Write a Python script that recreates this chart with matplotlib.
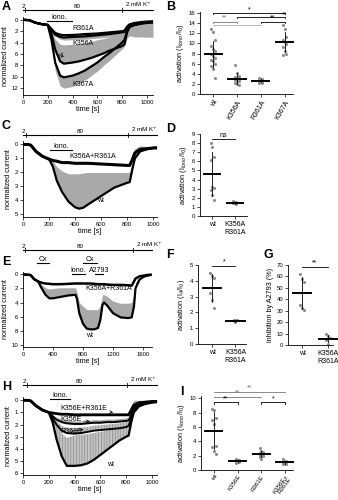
import numpy as np
import matplotlib.pyplot as plt

plt.rcParams['font.family'] = ['Liberation Sans', 'DejaVu Sans']
plt.rcParams['hatch.linewidth'] = 0.5

W, H = 338, 500
GREY = '#a9a9a9'
DOT = '#8c8c8c'

# ---- A: current traces, alanine mutants ----
tA = [0, 50, 100, 150, 200, 230, 260, 300, 330, 400, 450, 500, 550, 600, 650, 700, 750, 800, 820, 840, 860, 900, 950, 1000, 1050]
wtA = [0, 0.05, 0.5, 0.75, 0.9, 2.5, 5.2, 7.3, 7.7, 7.5, 7.3, 7.0, 6.7, 6.3, 5.9, 5.4, 5.0, 4.6, 4.3, 2.2, 1.3, 0.9, 0.7, 0.55, 0.45]
wtA_sem = [0, 0, 0, 0, 0, 0.8, 1.8, 3.0, 3.3, 3.2, 3.1, 3.0, 2.9, 2.8, 2.6, 2.4, 2.3, 2.2, 2.1, 1.0, 0.5, 0.3, 0.2, 0.15, 0.1]
k367A = [0, 0.05, 0.5, 0.75, 0.9, 3.5, 7.5, 9.8, 10.1, 9.8, 9.4, 8.9, 8.2, 7.5, 6.6, 5.8, 4.9, 4.0, 3.5, 2.0, 1.2, 0.9, 0.6, 0.45, 0.35]
k367A_sem = [0, 0, 0, 0, 0, 0.8, 1.4, 1.8, 1.9, 1.9, 1.8, 1.7, 1.6, 1.5, 1.4, 1.3, 1.2, 1.1, 1.1, 1.2, 1.6, 2.1, 2.4, 2.6, 2.7]
k356A = [0, 0.05, 0.5, 0.75, 0.9, 1.8, 2.6, 3.0, 3.1, 3.0, 2.95, 2.9, 2.8, 2.7, 2.6, 2.5, 2.35, 2.2, 2.1, 1.4, 0.9, 0.7, 0.55, 0.45, 0.4]
k356A_sem = [0, 0, 0, 0, 0, 0.2, 0.3, 0.4, 0.45, 0.5, 0.5, 0.5, 0.5, 0.5, 0.5, 0.5, 0.5, 0.5, 0.5, 0.3, 0.2, 0.2, 0.2, 0.2, 0.2]
r361A = [0, 0.05, 0.5, 0.75, 0.9, 1.6, 2.3, 2.6, 2.7, 2.65, 2.6, 2.5, 2.45, 2.4, 2.3, 2.2, 2.1, 2.0, 1.9, 1.2, 0.8, 0.55, 0.4, 0.3, 0.25]

# ---- B: activation, alanine mutants ----
catB = ['wt', 'K356A', 'R361A', 'K367A']
valsB = [
    [12.9, 12.2, 10.6, 9.4, 8.8, 8.4, 7.9, 7.6, 7.2, 6.8, 6.5, 6.0, 5.5, 5.0, 3.2],
    [5.7, 4.1, 3.6, 3.3, 3.1, 3.0, 2.8, 2.6, 2.5, 2.2, 2.0, 1.8],
    [3.2, 3.0, 2.9, 2.8, 2.7, 2.6, 2.5, 2.4, 2.2, 2.1],
    [13.6, 12.9, 11.3, 10.7, 10.2, 9.8, 9.3, 8.4, 8.0, 7.7],
]

# ---- C: traces wt vs K356A+R361A ----
tC = [0, 40, 60, 100, 150, 200, 230, 260, 300, 350, 400, 430, 460, 500, 600, 700, 800, 820, 840, 860, 900, 950, 1000, 1030]
wtC = [0, 0, 0.05, 0.5, 0.85, 1.05, 1.6, 2.6, 3.4, 4.1, 4.5, 4.6, 4.55, 4.3, 3.7, 3.1, 2.75, 2.7, 1.8, 1.0, 0.5, 0.35, 0.25, 0.2]
wtC_sem = [0, 0, 0, 0, 0, 0, 0.4, 1.0, 1.5, 2.0, 2.4, 2.5, 2.5, 2.3, 1.7, 1.1, 0.75, 0.7, 0.5, 0.3, 0.15, 0.1, 0.05, 0.05]
dmC = [0, 0, 0.05, 0.5, 0.85, 1.05, 1.15, 1.2, 1.3, 1.3, 1.35, 1.35, 1.35, 1.35, 1.4, 1.45, 1.5, 1.5, 1.1, 0.6, 0.35, 0.3, 0.25, 0.25]
dmC_sem = [0, 0, 0, 0, 0, 0, 0.05, 0.1, 0.1, 0.1, 0.1, 0.1, 0.1, 0.1, 0.1, 0.1, 0.1, 0.1, 0.2, 0.3, 0.25, 0.15, 0.1, 0.1]

# ---- D: activation wt vs double mutant ----
catD = ['wt', 'K356A\nR361A']
valsD = [
    [8.0, 7.6, 6.5, 6.1, 3.2, 3.1, 2.9, 2.3, 1.8],
    [1.6, 1.5, 1.5, 1.45, 1.4, 1.3],
]

# ---- E: traces with Cx / Iono. / A2793 ----
tE = [0, 100, 150, 200, 250, 300, 350, 400, 500, 600, 700, 720, 750, 800, 850, 900, 950, 1000, 1030, 1060, 1080, 1120, 1200, 1300, 1400, 1450, 1480, 1500, 1550, 1600, 1650, 1700]
wtE = [0, 0.1, 0.7, 1.0, 2.0, 2.9, 3.4, 3.4, 3.2, 3.0, 2.9, 3.5, 5.5, 7.0, 7.7, 7.8, 7.8, 7.6, 6.5, 4.3, 4.0, 4.4, 5.5, 6.1, 6.2, 6.1, 4.5, 2.0, 0.8, 0.4, 0.2, 0.1]
wtE_sem = [0, 0, 0, 0, 0.5, 1.0, 1.3, 1.4, 1.3, 1.1, 1.0, 1.0, 1.5, 2.5, 2.7, 2.8, 2.8, 2.6, 2.0, 1.4, 1.1, 1.3, 1.7, 2.0, 2.1, 2.1, 1.5, 0.8, 0.3, 0.1, 0.05, 0]
dmE = [0, 0.1, 0.7, 1.0, 1.2, 1.3, 1.35, 1.4, 1.4, 1.35, 1.3, 1.3, 1.3, 1.3, 1.3, 1.3, 1.35, 1.4, 1.4, 1.4, 1.4, 1.45, 1.5, 1.5, 1.55, 1.6, 1.0, 0.6, 0.3, 0.2, 0.1, 0.05]

# ---- F, G: activation and A2793 inhibition ----
catFG = ['wt', 'K356A\nR361A']
valsF = [
    [4.5, 4.3, 4.2, 3.2, 2.8, 2.3],
    [1.55, 1.5, 1.5, 1.45, 1.4],
]
valsG = [
    [62, 58, 55, 35, 32, 31],
    [9.3, 8.2, 5.8, 4.4, 0.6],
]

# ---- H: traces, glutamate mutants ----
tH = [0, 40, 60, 100, 150, 200, 230, 260, 300, 340, 400, 450, 500, 550, 600, 650, 700, 750, 800, 820, 840, 860, 900, 950, 1000, 1040]
wtH = [0, 0, 0.05, 0.45, 0.8, 1.0, 1.8, 3.2, 4.6, 5.4, 5.4, 5.35, 5.2, 4.9, 4.5, 4.1, 3.7, 3.3, 3.0, 2.9, 1.8, 1.0, 0.5, 0.3, 0.2, 0.15]
wtH_sem = [0, 0, 0, 0, 0, 0.1, 0.6, 1.2, 1.9, 2.3, 2.5, 2.5, 2.4, 2.2, 1.9, 1.6, 1.3, 1.0, 0.8, 0.7, 0.5, 0.3, 0.15, 0.1, 0.05, 0.05]
r361E = [0, 0, 0.05, 0.45, 0.8, 1.0, 1.5, 2.0, 2.5, 2.7, 2.75, 2.7, 2.6, 2.5, 2.45, 2.4, 2.35, 2.3, 2.2, 2.1, 1.5, 0.8, 0.4, 0.25, 0.15, 0.1]
r361E_sem = [0, 0, 0, 0, 0, 0, 0.2, 0.3, 0.4, 0.45, 0.45, 0.45, 0.4, 0.4, 0.4, 0.4, 0.4, 0.4, 0.4, 0.4, 0.3, 0.2, 0.1, 0.1, 0.05, 0.05]
k356E = [0, 0, 0.05, 0.45, 0.8, 1.0, 1.3, 1.6, 1.8, 1.9, 1.95, 1.95, 1.9, 1.85, 1.85, 1.8, 1.8, 1.75, 1.7, 1.65, 1.2, 0.6, 0.3, 0.2, 0.1, 0.1]
k356E_sem = [0, 0, 0, 0, 0, 0, 0.1, 0.2, 0.25, 0.25, 0.25, 0.25, 0.25, 0.25, 0.25, 0.25, 0.25, 0.25, 0.25, 0.25, 0.3, 0.3, 0.2, 0.1, 0.1, 0.1]
dmH = [0, 0, 0.05, 0.45, 0.8, 1.0, 1.05, 1.1, 1.15, 1.15, 1.2, 1.2, 1.2, 1.2, 1.2, 1.2, 1.2, 1.2, 1.2, 1.2, 0.8, 0.4, 0.2, 0.15, 0.1, 0.1]
dmH_sem = [0, 0, 0, 0, 0, 0, 0.05, 0.1, 0.15, 0.15, 0.15, 0.15, 0.15, 0.15, 0.15, 0.15, 0.15, 0.15, 0.15, 0.2, 0.4, 0.4, 0.2, 0.15, 0.1, 0.1]

# ---- I: activation, glutamate mutants ----
catI = ['wt', 'K356E', 'R361E', 'K356E+\nR361E']
valsI = [
    [8.5, 8.4, 7.3, 7.0, 6.4, 3.4, 3.2, 2.7, 2.2],
    [1.5, 1.4, 1.35, 1.3, 1.25, 1.2, 1.2, 1.15, 1.1, 1.0],
    [3.1, 2.7, 2.5, 2.4, 2.3, 2.2, 2.1, 2.0, 1.9, 1.8, 1.6],
    [1.5, 1.3, 1.2, 1.15, 1.1, 1.05, 1.0, 0.95, 0.9, 0.85, 0.8],
]

fig = plt.figure(figsize=(W / 100, H / 100), dpi=100)


def add_ax(l, t, r, b):
    ax = fig.add_axes([l / W, 1 - b / H, (r - l) / W, (b - t) / H])
    ax.px = (t, b)
    for s in ('top', 'right'):
        ax.spines[s].set_visible(False)
    for s in ('left', 'bottom'):
        ax.spines[s].set_linewidth(0.6)
    ax.tick_params(labelsize=4.3, length=2, width=0.5, pad=1.5)
    return ax


def yfrac(ax, ypx):
    # pixel row -> axes fraction
    t, b = ax.px
    return (b - ypx) / (b - t)


def letter(x, y, s):
    fig.text(x / W, 1 - y / H, s, fontsize=9, fontweight='bold', va='top', ha='left')


def trace_axes(ax, xlim, ylim, xticks, yticks):
    ax.set_xlim(*xlim)
    ax.set_ylim(*ylim)
    ax.set_xticks(xticks)
    ax.set_yticks(yticks)
    ax.set_xlabel('time [s]', fontsize=5.2, labelpad=1)
    ax.set_ylabel('normalized current', fontsize=5.2, labelpad=2)


def top_bar(ax, ypx, x0, x1, k1, k2, xmid):
    tr = ax.get_xaxis_transform()
    y = yfrac(ax, ypx)
    d = yfrac(ax, ypx - 2) - y
    ax.plot([x0, x1], [y, y], color='k', lw=0.8, transform=tr, clip_on=False)
    for k in (k1, k2):
        ax.plot([k, k], [y - d, y + d], color='k', lw=0.6, transform=tr, clip_on=False)
    ax.text(k1 - 5, y + d * 0.6, '2', fontsize=4.5, ha='right', va='bottom', transform=tr)
    ax.text(xmid, y + d * 0.6, '80', fontsize=4.5, ha='center', va='bottom', transform=tr)
    ax.text(k2 + (x1 - x0) * 0.02, y + d * 0.6, '2 mM K$^{+}$', fontsize=4.5, ha='left',
            va='bottom', transform=tr)


def drug_bar(ax, x0, x1, ypx, label):
    tr = ax.get_xaxis_transform()
    y = yfrac(ax, ypx)
    ax.plot([x0, x1], [y, y], color='k', lw=0.8, transform=tr, clip_on=False)
    ax.text((x0 + x1) / 2, y, label, fontsize=5, ha='center', va='bottom', transform=tr)


def band(ax, t, y, sem, sign=-1, hatch=None):
    y = np.array(y)
    s = np.array(sem)
    if hatch:
        ax.fill_between(t, y, y + sign * s, facecolor='#c4c4c4', edgecolor='#8a8a8a',
                        hatch=hatch, lw=0)
    else:
        ax.fill_between(t, y, y + sign * s, color=GREY, lw=0)


def dots(ax, groups, width=0.36):
    for i, vals in enumerate(groups):
        vals = np.array(vals)
        off = np.array([((j % 3) - 1) * 0.07 for j in range(len(vals))])
        ax.scatter(i + off, vals, s=5, color=DOT, zorder=2, lw=0)
        m, sd = vals.mean(), vals.std(ddof=1)
        ax.plot([i, i], [m - sd, m + sd], color='k', lw=0.6, zorder=3)
        ax.plot([i - width, i + width], [m, m], color='k', lw=1.4, zorder=4, clip_on=False)


def bracket(ax, x0, x1, y, text, dy, color='k', tx=None):
    ax.plot([x0, x0, x1, x1], [y - dy, y, y, y - dy], color=color, lw=0.6, clip_on=False)
    if text:
        ax.text((x0 + x1) / 2 if tx is None else tx, y, text, fontsize=5, ha='center',
                va='bottom', color=color)


# A
axA = add_ax(23, 17, 153, 95)
band(axA, tA, k367A, k367A_sem, sign=1)
band(axA, tA, wtA, wtA_sem, sign=-1)
band(axA, tA, k356A, k356A_sem, sign=1)
for y in (k367A, wtA, k356A, r361A):
    axA.plot(tA, y, color='k', lw=1.6)
trace_axes(axA, (0, 1050), (13.2, -0.5), range(0, 1001, 200), range(0, 13, 2))
top_bar(axA, 10, 0, 1050, 20, 800, 440)
drug_bar(axA, 195, 395, 21, 'Iono.')
axA.text(400, 1.6, 'R361A', fontsize=5, va='center')
axA.text(400, 4.2, 'K356A', fontsize=5, va='center')
axA.text(270, 6.5, 'wt', fontsize=5, va='center', rotation=20)
axA.text(400, 11.4, 'K367A', fontsize=5, va='center')
letter(2, 1, 'A')

# B
axB = add_ax(200, 12, 293, 94)
dots(axB, valsB)
axB.set_xlim(-0.55, 3.35)
axB.set_ylim(0, 16.2)
axB.set_yticks(range(0, 17, 2))
axB.set_xticks(range(4))
axB.set_xticklabels(catB, rotation=60, ha='right', rotation_mode='anchor', fontsize=5)
axB.set_ylabel('activation (I$_{Iono}$/I$_0$)', fontsize=5.2, labelpad=2)
bracket(axB, 0, 3, 16.0, '*', 0.25)
bracket(axB, 1, 3, 15.2, '', 0.25)
axB.text(3.0, 15.0, '**', fontsize=5, ha='center', va='bottom')
bracket(axB, 0, 1, 14.3, '**', 0.25, color='#777')
axB.plot([0, 2], [13.6, 13.6], color='#999', lw=0.5)
bracket(axB, 2, 3, 14.3, '**', 0.25)
letter(166, 1, 'B')

# C
axC = add_ax(23, 141, 157, 217)
band(axC, tC, wtC, wtC_sem, sign=-1)
band(axC, tC, dmC, dmC_sem, sign=-1)
axC.plot(tC, wtC, color='k', lw=1.6)
axC.plot(tC, dmC, color='k', lw=2.2)
trace_axes(axC, (0, 1030), (5.2, -0.25), range(0, 1001, 200), range(0, 6))
top_bar(axC, 135, 0, 1030, 20, 810, 440)
drug_bar(axC, 205, 375, 150, 'Iono.')
axC.text(360, 0.85, 'K356A+R361A', fontsize=5, va='center')
axC.text(570, 4.05, 'wt', fontsize=5, va='center')
letter(2, 120, 'C')

# D
axD = add_ax(200, 134, 247, 216)
dots(axD, valsD)
axD.set_xlim(-0.55, 1.55)
axD.set_ylim(0, 9)
axD.set_yticks(range(10))
axD.set_xticks(range(2))
axD.set_xticklabels(catD, fontsize=5)
axD.set_ylabel('activation (I$_{Iono}$/I$_0$)', fontsize=5.2, labelpad=2)
bracket(axD, 0, 1, 8.5, 'ns', 0.0)
letter(166, 123, 'D')

# E
axE = add_ax(23, 272, 152, 347)
band(axE, tE, wtE, wtE_sem, sign=-1)
axE.plot(tE, wtE, color='k', lw=1.6)
axE.plot(tE, dmE, color='k', lw=1.8)
trace_axes(axE, (0, 1720), (10.3, -0.33), range(0, 1601, 400), range(0, 11, 2))
top_bar(axE, 250, 0, 1720, 30, 1470, 760)
drug_bar(axE, 190, 340, 263, 'Cx')
drug_bar(axE, 800, 980, 263, 'Cx')
drug_bar(axE, 650, 830, 274, 'Iono.')
drug_bar(axE, 960, 1060, 274, 'A2793')
axE.text(830, 2.0, 'K356A+R361A', fontsize=5, va='center')
axE.text(840, 8.6, 'wt', fontsize=5, va='center')
letter(2, 256, 'E')

# F
axF = add_ax(198, 265, 246, 344)
dots(axF, valsF, width=0.4)
axF.set_xlim(-0.6, 1.45)
axF.set_ylim(0, 5)
axF.set_yticks(range(6))
axF.set_xticks(range(2))
axF.set_xticklabels(catFG, fontsize=5)
axF.set_ylabel('activation (I$_A$/I$_0$)', fontsize=5.2, labelpad=2)
bracket(axF, 0, 1, 4.95, '*', 0.0)
letter(166, 249, 'F')

# G
axG = add_ax(288, 265, 333, 345)
dots(axG, valsG, width=0.35)
axG.set_xlim(-0.55, 1.2)
axG.set_ylim(0, 70)
axG.set_yticks(range(0, 71, 10))
axG.set_xticks(range(2))
axG.set_xticklabels(catFG, fontsize=5)
axG.set_ylabel('inhibition by A2793 (%)', fontsize=5.2, labelpad=2)
bracket(axG, 0, 1, 68.6, '**', 0.0)
letter(263, 249, 'G')

# H
axH = add_ax(23, 397, 157, 475)
band(axH, tH, wtH, wtH_sem, sign=-1, hatch='||||||')
band(axH, tH, r361E, r361E_sem, sign=-1, hatch='||||||')
band(axH, tH, k356E, k356E_sem, sign=-1)
band(axH, tH, dmH, dmH_sem, sign=-1)
for y, lw in ((wtH, 1.6), (r361E, 1.4), (k356E, 1.4), (dmH, 2.0)):
    axH.plot(tH, y, color='k', lw=lw)
trace_axes(axH, (0, 1040), (6.15, -0.27), range(0, 1001, 200), range(0, 7))
top_bar(axH, 385, 0, 1040, 30, 810, 440)
drug_bar(axH, 210, 365, 399, 'Iono.')
arr = dict(arrowstyle='->', lw=0.5, color='k', shrinkA=0, shrinkB=0)
axH.annotate('K356E+R361E', xy=(700, 1.0), xytext=(290, 0.7), fontsize=5, va='center', arrowprops=arr)
axH.annotate('K356E', xy=(520, 1.75), xytext=(290, 1.6), fontsize=5, va='center', arrowprops=arr)
axH.annotate('R361E', xy=(470, 2.4), xytext=(290, 2.55), fontsize=5, va='center', arrowprops=arr)
axH.text(650, 5.3, 'wt', fontsize=5, va='center')
letter(2, 381, 'H')

# I
axI = add_ax(201, 396, 293, 470)
dots(axI, valsI)
axI.set_xlim(-0.55, 3.35)
axI.set_ylim(0, 10.3)
axI.set_yticks(range(0, 11, 2))
axI.set_xticks(range(4))
axI.tick_params(axis='x', pad=0.8)
axI.set_xticklabels(catI, rotation=55, ha='right', rotation_mode='anchor', fontsize=4.4,
                    linespacing=0.85)
axI.set_ylabel('activation (I$_{Iono}$/I$_0$)', fontsize=5.2, labelpad=2)
bracket(axI, 0, 3, 10.9, '**', 0.0, color='#777', tx=1.5)
bracket(axI, 0, 2, 10.2, '**', 0.0, color='#777', tx=1.0)
bracket(axI, 0, 1, 9.4, '**', 0.25)
bracket(axI, 2, 3, 9.4, '*', 0.25)
letter(180, 386, 'I')

fig.savefig('out.png', dpi=100)
